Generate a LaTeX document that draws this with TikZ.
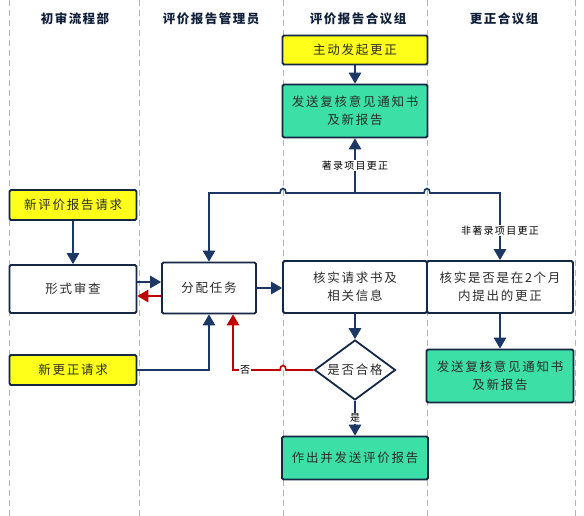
\documentclass[tikz,border=0pt]{standalone}
\usepackage{fontspec}
\newfontfamily\cjk[LetterSpace=14]{Noto Sans CJK SC}
\newfontfamily\cjksmall[LetterSpace=13]{Noto Sans CJK SC}
\newfontfamily\cjkhead[LetterSpace=12]{Noto Sans CJK SC}
\usetikzlibrary{arrows.meta,shapes.geometric,calc,positioning}

\definecolor{lanegray}{HTML}{B4B4B4}
\definecolor{linenavy}{HTML}{1C3763}
\definecolor{nored}{HTML}{C00000}
\definecolor{reqyellow}{HTML}{FFFF1A}
\definecolor{sendgreen}{HTML}{3CE0A6}
\definecolor{inktext}{HTML}{2B2B2B}

\tikzset{
  lane/.style={lanegray, line width=0.8pt, dash pattern=on 6pt off 4pt},
  head/.style={font=\cjkhead\bfseries\fontsize{12.5}{15}\selectfont, text=linenavy!60!black},
  task/.style={draw=linenavy!70!black, line width=1.8pt, rounded corners=1.5pt, fill=white,
    align=center, inner sep=0pt, text=inktext, font=\cjk\fontsize{12.5}{18}\selectfont},
  request/.style={task, fill=reqyellow},
  result/.style={task, fill=sendgreen},
  decision/.style={task, diamond, rounded corners=0pt, aspect=1.35,
    minimum width=81pt, minimum height=60pt},
  flow/.style={draw=linenavy, line width=1.6pt, -{Triangle[length=11pt,width=12.5pt]}},
  noflow/.style={flow, draw=nored},
  cond/.style={font=\cjksmall\fontsize{10}{12}\selectfont, fill=white, inner sep=1pt, text=black}
}

\begin{document}
\begin{tikzpicture}[x=1pt, y=-1pt]
  \useasboundingbox (0,0) rectangle (584,516);
  \begin{scope}
    \foreach \x [count=\i] in {9,139,283,427,575} {
      \draw[lane] (\x,0) coordinate (L\i) -- (\x,516);
    }
    \foreach \x/\t [count=\i] in {75/初审流程部, 211/评价报告管理员, 358/评价报告合议组, 504/更正合议组} {
      \node[head] (head\i) at (\x,19) {\t};
    }
  \end{scope}

  \node[request, minimum width=145pt, minimum height=29pt] (start) at (355,50) {主动发起更正};
  \node[result, minimum width=145pt, minimum height=53pt] (notifyA) at (355,111) {发送复核意见通知书\\及新报告};
  \node[request, minimum width=127pt, minimum height=30pt] (newreq) at (73,205) {新评价报告请求};
  \node[task, minimum width=127pt, minimum height=48pt] (check) at (73,289) {形式审查};
  \node[request, minimum width=127pt, minimum height=30pt] (newfix) at (73,370) {新更正请求};
  \node[task, minimum width=94pt, minimum height=51pt] (assign) at (209,288) {分配任务};
  \node[task, minimum width=144pt, minimum height=52pt] (verify) at (355,287) {核实请求书及\\相关信息};
  \node[task, minimum width=146pt, minimum height=52pt] (window) at (500,287) {核实是否是在2个月\\内提出的更正};
  \node[decision] (pass) at (355,370) {是否合格};
  \node[result, minimum width=146pt, minimum height=43pt] (report) at (355,458) {作出并发送评价报告};
  \node[result, minimum width=147pt, minimum height=53pt] (notifyB) at (500,376) {发送复核意见通知书\\及新报告};

  \coordinate (hub) at (355,193);

  \draw[flow] (start) -- (notifyA);
  \draw[flow] (hub) -- node[cond]{著录项目更正} (notifyA);
  \draw[flow] (hub) -- ([xshift=3pt]hub -| L3) .. controls +(0pt,6pt) and +(0pt,6pt) .. ([xshift=-3pt]hub -| L3) -| (assign.north);
  \draw[flow] (hub) -- ([xshift=-3pt]hub -| L4) .. controls +(0pt,6pt) and +(0pt,6pt) .. ([xshift=3pt]hub -| L4)
    -| node[cond, pos=0.78]{非著录项目更正} (window.north);
  \draw[flow] (newreq) -- (check);
  \draw[flow] ([yshift=7pt]check.east) -- ([yshift=7pt]check.east -| assign.west);
  \draw[noflow] ([yshift=-8pt]assign.west) -- ([yshift=-8pt]assign.west -| check.east);
  \draw[flow] (newfix.east) -| (assign.south);
  \draw[flow] (assign.east) -- (assign.east -| verify.west);
  \draw[flow] (verify) -- (pass);
  \draw[flow] (pass) -- node[cond]{是} (report);
  \draw[noflow] (pass.west) -- ([xshift=3pt]pass.west -| L3) .. controls +(0pt,6pt) and +(0pt,6pt) .. ([xshift=-3pt]pass.west -| L3)
    -| node[cond, pos=0.37]{否} ([xshift=24pt]assign.south);
  \draw[flow] (window) -- (notifyB);
\end{tikzpicture}
\end{document}
